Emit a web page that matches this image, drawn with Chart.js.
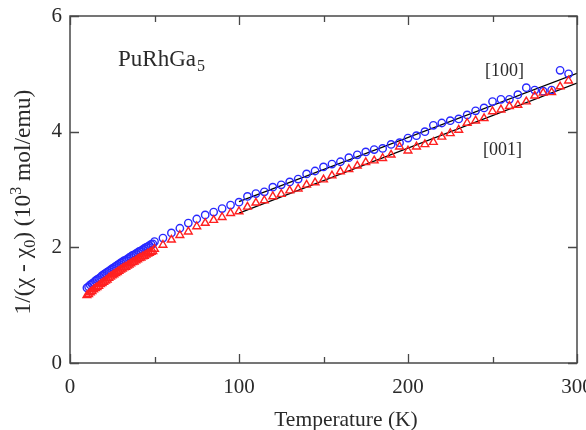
<!DOCTYPE html>
<html>
<head>
<meta charset="utf-8">
<script src="https://cdn.jsdelivr.net/npm/chart.js@4.4.1/dist/chart.umd.min.js"></script>
<style>
  html, body { margin: 0; padding: 0; background: #ffffff; }
  #wrap { width: 586px; height: 430px; }
</style>
</head>
<body>
<div id="wrap"><canvas id="c" width="586" height="430"></canvas></div>
<script>
// Inverse susceptibility of PuRhGa5, field along [100] and [001]

// Dense low-temperature sweep (K)
const tempLow = [10, 11, 12, 13, 14, 15, 16, 17, 18, 19,
                 20, 21, 22, 23, 24, 25, 26, 27, 28, 29,
                 30, 31, 32, 33, 34, 35, 36, 37, 38, 39,
                 40, 41, 42, 43, 44, 45, 46, 47, 48, 49];
const chi100Low = [1.30, 1.32, 1.35, 1.37, 1.39, 1.42, 1.44, 1.46, 1.48, 1.51,
                   1.53, 1.55, 1.57, 1.59, 1.61, 1.63, 1.65, 1.67, 1.69, 1.71,
                   1.73, 1.75, 1.77, 1.78, 1.80, 1.82, 1.84, 1.86, 1.87, 1.89,
                   1.91, 1.93, 1.94, 1.96, 1.98, 2.00, 2.01, 2.03, 2.05, 2.06];
const chi001Low = [1.17, 1.19, 1.22, 1.24, 1.27, 1.29, 1.31, 1.33, 1.36, 1.38,
                   1.40, 1.42, 1.44, 1.47, 1.49, 1.51, 1.53, 1.55, 1.57, 1.59,
                   1.61, 1.63, 1.65, 1.66, 1.68, 1.70, 1.72, 1.74, 1.75, 1.77,
                   1.79, 1.81, 1.82, 1.84, 1.85, 1.87, 1.89, 1.90, 1.92, 1.93];

// 5 K steps above 50 K
const tempHigh = [50, 55, 60, 65, 70, 75, 80, 85, 90, 95,
                  100, 105, 110, 115, 120, 125, 130, 135, 140, 145,
                  150, 155, 160, 165, 170, 175, 180, 185, 190, 195,
                  200, 205, 210, 215, 220, 225, 230, 235, 240, 245,
                  250, 255, 260, 265, 270, 275, 280, 285, 290, 295];
const chi100High = [2.10, 2.16, 2.25, 2.33, 2.42, 2.49, 2.56, 2.61, 2.67, 2.73,
                    2.78, 2.88, 2.93, 2.96, 3.04, 3.08, 3.13, 3.18, 3.27, 3.32,
                    3.39, 3.44, 3.48, 3.55, 3.60, 3.65, 3.69, 3.71, 3.78, 3.81,
                    3.89, 3.93, 4.00, 4.11, 4.15, 4.19, 4.22, 4.29, 4.36, 4.41,
                    4.52, 4.56, 4.56, 4.64, 4.76, 4.72, 4.70, 4.72, 5.06, 5.00];
const chi001High = [1.97, 2.04, 2.13, 2.21, 2.27, 2.36, 2.42, 2.47, 2.52, 2.59,
                    2.62, 2.70, 2.77, 2.81, 2.88, 2.92, 2.98, 3.01, 3.08, 3.12,
                    3.17, 3.24, 3.31, 3.35, 3.41, 3.47, 3.50, 3.54, 3.60, 3.74,
                    3.67, 3.74, 3.78, 3.82, 3.91, 3.97, 4.03, 4.15, 4.19, 4.23,
                    4.35, 4.38, 4.44, 4.46, 4.52, 4.62, 4.67, 4.68, 4.78, 4.88];

// Curie-Weiss fits, 100-300 K
const fitTemp = [100, 300];
const fit100 = [2.79, 5.01];
const fit001 = [2.59, 4.84];

// Axis ticks
const xMajorTicks = [0, 100, 200, 300];
const xMinorTicks = [50, 150, 250];
const yMajorTicks = [0, 2, 4, 6];

const SERIF = '"Liberation Serif", "DejaVu Serif", serif';
const BLUE = '#2828ff';
const RED = '#ff2020';
const INK = '#2a2a2a';

function pts(xs, ys) { return xs.map((x, i) => ({ x: x, y: ys[i] })); }

const frameAndText = {
  id: 'frameAndText',
  afterDatasetsDraw(chart) {
    const ctx = chart.ctx;
    const a = chart.chartArea;
    const xs = chart.scales.x, ys = chart.scales.y;
    ctx.save();
    ctx.strokeStyle = '#484848';
    ctx.lineWidth = 1.5;
    ctx.strokeRect(a.left, a.top, a.right - a.left, a.bottom - a.top);
    ctx.lineWidth = 1.3;
    ctx.beginPath();
    const xt = (v, len) => {
      const p = Math.round(xs.getPixelForValue(v)) + 0.5;
      ctx.moveTo(p, a.bottom); ctx.lineTo(p, a.bottom - len);
      ctx.moveTo(p, a.top); ctx.lineTo(p, a.top + len);
    };
    xMajorTicks.forEach(v => xt(v, 9));
    xMinorTicks.forEach(v => xt(v, 6));
    yMajorTicks.forEach(v => {
      const p = Math.round(ys.getPixelForValue(v)) + 0.5;
      ctx.moveTo(a.left, p); ctx.lineTo(a.left + 9, p);
      ctx.moveTo(a.right, p); ctx.lineTo(a.right - 9, p);
    });
    ctx.stroke();
    ctx.restore();
  },
  afterDraw(chart) {
    const ctx = chart.ctx;
    const a = chart.chartArea;
    ctx.save();
    ctx.fillStyle = INK;
    ctx.textBaseline = 'alphabetic';

    // compound name with subscript
    ctx.textAlign = 'left';
    ctx.font = '23px ' + SERIF;
    const nx = a.left + 48, ny = a.top + 50;
    ctx.fillText('PuRhGa', nx, ny);
    const w = ctx.measureText('PuRhGa').width;
    ctx.font = '16px ' + SERIF;
    ctx.fillText('5', nx + w + 1, ny + 5);

    // field directions
    ctx.font = '18px ' + SERIF;
    ctx.fillText('[100]', a.left + 415, a.top + 60);
    ctx.fillText('[001]', a.left + 413, a.top + 139);

    // x-axis title
    ctx.font = '21.5px ' + SERIF;
    ctx.textAlign = 'center';
    ctx.fillText('Temperature (K)', 346, 426);

    // y-axis title with sub/superscripts
    const parts = [
      ['1/(\u03c7 - \u03c7', 23.5, 0],
      ['0', 16, 5],
      [') (10', 23.5, 0],
      ['3', 16, -9],
      [' mol/emu)', 23.5, 0]
    ];
    let total = 0;
    parts.forEach(p => { ctx.font = p[1] + 'px ' + SERIF; total += ctx.measureText(p[0]).width; });
    ctx.translate(30, 202);
    ctx.rotate(-Math.PI / 2);
    ctx.textAlign = 'left';
    let cx = -total / 2;
    parts.forEach(p => {
      ctx.font = p[1] + 'px ' + SERIF;
      ctx.fillText(p[0], cx, p[2]);
      cx += ctx.measureText(p[0]).width;
    });
    ctx.restore();
  }
};

new Chart(document.getElementById('c'), {
  type: 'scatter',
  data: {
    datasets: [
      {
        label: '[001]',
        data: pts(tempLow, chi001Low).concat(pts(tempHigh, chi001High)),
        pointStyle: 'triangle',
        pointRadius: 4.5,
        borderColor: RED,
        backgroundColor: 'rgba(0,0,0,0)',
        borderWidth: 1.4,
        showLine: false
      },
      {
        label: '[100]',
        data: pts(tempLow, chi100Low).concat(pts(tempHigh, chi100High)),
        pointStyle: 'circle',
        pointRadius: 3.7,
        borderColor: BLUE,
        backgroundColor: 'rgba(0,0,0,0)',
        borderWidth: 1.4,
        showLine: false
      },
      {
        label: 'fit [100]',
        data: pts(fitTemp, fit100),
        showLine: true,
        pointRadius: 0,
        borderColor: '#000000',
        borderWidth: 1.3,
        fill: false
      },
      {
        label: 'fit [001]',
        data: pts(fitTemp, fit001),
        showLine: true,
        pointRadius: 0,
        borderColor: '#000000',
        borderWidth: 1.3,
        fill: false
      }
    ]
  },
  options: {
    responsive: false,
    animation: false,
    devicePixelRatio: 1,
    layout: { padding: { top: 16, right: 9, left: 0, bottom: 0 } },
    plugins: { legend: { display: false }, tooltip: { enabled: false } },
    scales: {
      x: {
        type: 'linear', min: 0, max: 300,
        grid: { display: false, drawTicks: false },
        border: { display: false },
        ticks: { stepSize: 100, padding: 12, color: INK, font: { family: SERIF, size: 21 } },
        afterFit(s) { s.height = 67; s.paddingLeft = 0; s.paddingRight = 0; }
      },
      y: {
        type: 'linear', min: 0, max: 6,
        grid: { display: false, drawTicks: false },
        border: { display: false },
        ticks: { stepSize: 2, padding: 8, color: INK, font: { family: SERIF, size: 21 } },
        afterFit(s) { s.width = 70; s.paddingTop = 0; s.paddingBottom = 0; }
      }
    }
  },
  plugins: [frameAndText]
});
</script>
</body>
</html>
